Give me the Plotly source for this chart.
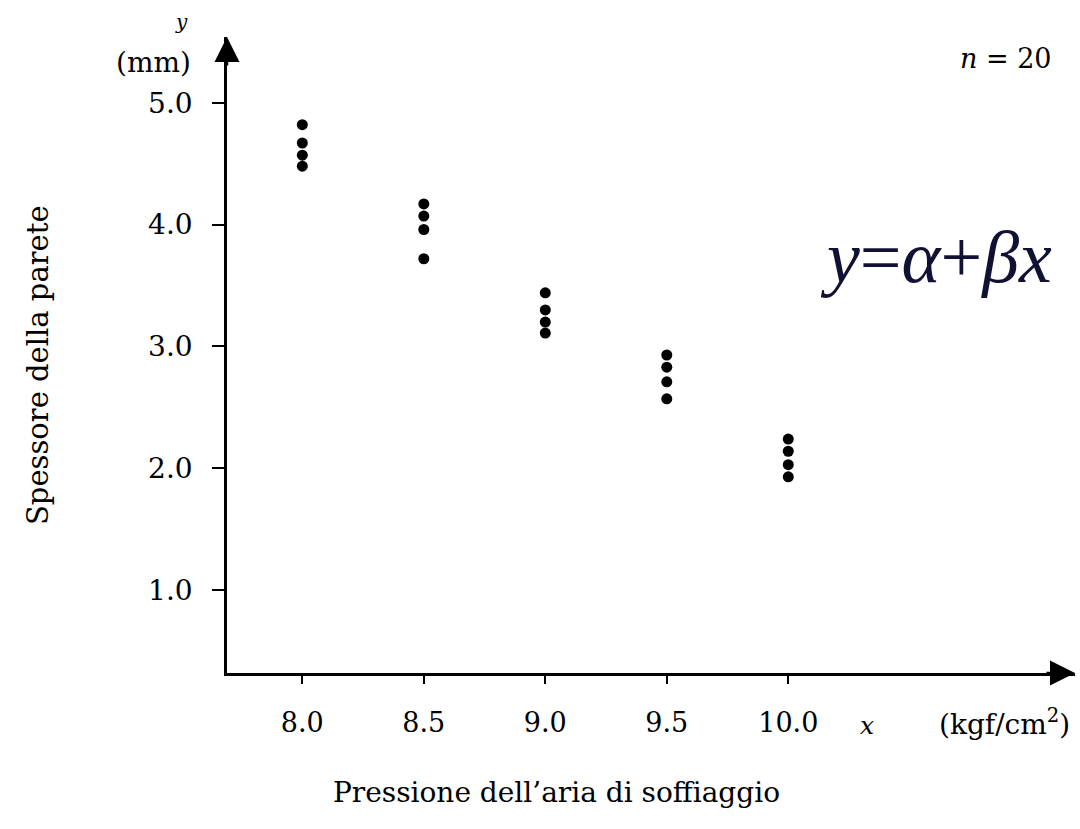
import plotly.graph_objects as go

# Data
pressure_levels = [8.0, 8.5, 9.0, 9.5, 10.0]
thickness_8_0 = [4.82, 4.67, 4.57, 4.48]
thickness_8_5 = [4.17, 4.07, 3.96, 3.72]
thickness_9_0 = [3.44, 3.30, 3.20, 3.11]
thickness_9_5 = [2.93, 2.83, 2.71, 2.57]
thickness_10_0 = [2.24, 2.14, 2.03, 1.93]
x_tick_vals = [8.0, 8.5, 9.0, 9.5, 10.0]
x_tick_text = ["8.0", "8.5", "9.0", "9.5", "10.0"]
y_tick_vals = [1.0, 2.0, 3.0, 4.0, 5.0]
y_tick_text = ["1.0", "2.0", "3.0", "4.0", "5.0"]

groups = [thickness_8_0, thickness_8_5, thickness_9_0, thickness_9_5, thickness_10_0]
xs, ys = [], []
for p, g in zip(pressure_levels, groups):
    for v in g:
        xs.append(p)
        ys.append(v)

X_MIN, X_MAX = 7.69, 11.18
Y_MIN, Y_MAX = 0.32, 5.54
SERIF = "DejaVu Serif, serif"
TIMES = "Liberation Serif"

# plot area in pixels
L, R, T, B = 227, 1075, 37, 673


def px(x):
    return (x - L) / (R - L)


def py(y):
    return (B - y) / (B - T)


fig = go.Figure()
fig.add_trace(go.Scatter(
    x=xs, y=ys, mode="markers",
    marker=dict(color="black", size=11, line=dict(width=0)),
    showlegend=False, hoverinfo="skip"))

fig.update_layout(
    width=1080, height=829,
    margin=dict(l=L, r=1080 - R, t=T, b=829 - B),
    paper_bgcolor="white", plot_bgcolor="white",
    font=dict(family=SERIF, color="black"),
    xaxis=dict(range=[X_MIN, X_MAX], showgrid=False, zeroline=False,
               showline=True, linecolor="black", linewidth=2.5,
               tickmode="array", tickvals=x_tick_vals, ticktext=x_tick_text,
               ticks="outside", ticklen=8, tickwidth=1.5, tickcolor="black",
               ticklabelstandoff=16,
               tickfont=dict(family=SERIF, size=27, color="black")),
    yaxis=dict(range=[Y_MIN, Y_MAX], showgrid=False, zeroline=False,
               showline=True, linecolor="black", linewidth=2.5,
               tickmode="array", tickvals=y_tick_vals, ticktext=y_tick_text,
               ticks="outside", ticklen=12, tickwidth=1.5, tickcolor="black",
               ticklabelstandoff=14,
               tickfont=dict(family=SERIF, size=28, color="black")),
)

# Arrowheads at the axis ends
fig.add_annotation(x=X_MIN, y=Y_MAX, xref="x", yref="y", ax=0, ay=30,
                   axref="pixel", ayref="pixel", showarrow=True, text="",
                   arrowhead=2, arrowsize=2, arrowwidth=2.5, arrowcolor="black")
fig.add_annotation(x=X_MAX, y=Y_MIN, xref="x", yref="y", ax=-30, ay=0,
                   axref="pixel", ayref="pixel", showarrow=True, text="",
                   arrowhead=2, arrowsize=2, arrowwidth=2.5, arrowcolor="black")

# Text labels (pixel positions of the centres)
texts = [
    dict(x=181, y=22, text="<i>y</i>", size=20, family=SERIF),
    dict(x=153, y=63, text="(mm)", size=28, family=SERIF),
    dict(x=1006, y=58, text="<i>n</i> = 20", size=27, family=SERIF),
    dict(x=867, y=725, text="<i>x</i>", size=25, family=SERIF),
    dict(x=1004, y=722, text="(kgf/cm<sup>2</sup>)", size=28, family=SERIF),
    dict(x=556, y=792, text="Pressione dell\u2019aria di soffiaggio", size=28, family=SERIF),
    dict(x=936, y=257,
         text="<i>y</i>=<i>\u03b1</i>+<i>\u03b2x</i>", size=74,
         family=TIMES, color="#111133"),
]
for t in texts:
    fig.add_annotation(x=px(t["x"]), y=py(t["y"]), xref="paper", yref="paper",
                       text=t["text"], showarrow=False, xanchor="center", yanchor="middle",
                       font=dict(size=t["size"], family=t["family"],
                                 color=t.get("color", "black")))

fig.add_annotation(x=px(38), y=py(365), xref="paper", yref="paper",
                   text="Spessore della parete", textangle=-90, showarrow=False,
                   xanchor="center", yanchor="middle",
                   font=dict(size=29, family=SERIF, color="black"))

fig.write_html("out.html")
